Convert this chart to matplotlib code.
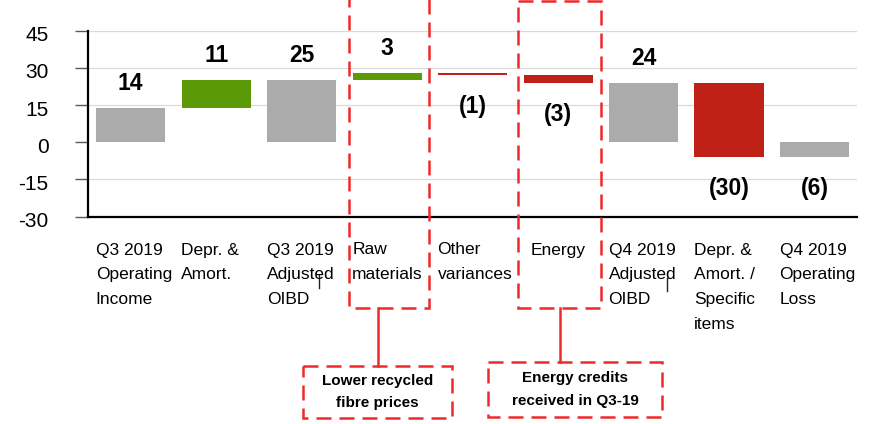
"""
Q3 -> Q4 2019 operating income bridge (waterfall), with dashed call-outs
on the raw materials and energy steps.
"""

import matplotlib
matplotlib.use("Agg")
import matplotlib.pyplot as plt
from matplotlib import font_manager
from matplotlib.patches import Rectangle
from matplotlib.lines import Line2D
import matplotlib.transforms as mtransforms

# ---- data -----------------------------------------------------------------
categories = [
    "Q3 2019\nOperating\nIncome",
    "Depr. &\nAmort.",
    "Q3 2019\nAdjusted\nOIBD",
    "Raw\nmaterials",
    "Other\nvariances",
    "Energy",
    "Q4 2019\nAdjusted\nOIBD",
    "Depr. &\nAmort. /\nSpecific\nitems",
    "Q4 2019\nOperating\nLoss",
]
values = [14, 11, 25, 3, -1, -3, 24, -30, -6]
kinds = ["total", "up", "total", "up", "down", "down", "total", "down", "total"]

yticks = [-30, -15, 0, 15, 30, 45]
grid_levels = [45, 30, 15, -15]

callout_texts = ["Lower recycled\nfibre prices", "Energy credits\nreceived in Q3-19"]

# ---- style ----------------------------------------------------------------
GREY = "#ABABAB"
GREEN = "#5B9A06"
RED = "#BF2117"
DASH_RED = "#EE2A2A"
colors = {"total": GREY, "up": GREEN, "down": RED}

installed = {f.name for f in font_manager.fontManager.ttflist}
NARROW = "Liberation Sans Narrow" if "Liberation Sans Narrow" in installed else "Liberation Sans"
plt.rcParams["font.family"] = ["Liberation Sans", "DejaVu Sans"]
plt.rcParams["axes.unicode_minus"] = False

W, H = 871, 424
fig = plt.figure(figsize=(W / 100, H / 100), dpi=100)
ax = fig.add_axes([88 / W, 1 - 216.7 / H, (857.3 - 88) / W, (216.7 - 30.7) / H])

# waterfall bottoms / heights
bottoms, heights = [], []
running = 0
for v, k in zip(values, kinds):
    if k == "total":
        bottoms.append(0)
        heights.append(v)
        running = v
    else:
        bottoms.append(running)
        heights.append(v)
        running += v

x = list(range(len(categories)))
ax.bar(x, heights, bottom=bottoms, width=0.81,
       color=[colors[k] for k in kinds], zorder=3)

for lvl in grid_levels:
    ax.axhline(lvl, color="#D9D9D9", lw=0.9, zorder=1)

ax.set_xlim(-0.5, len(categories) - 0.5)
ax.set_ylim(-30, 45)
ax.set_yticks(yticks)
ax.set_xticks([])
ax.tick_params(axis="y", length=9.4, width=1, color="#595959", pad=19,
               labelsize=15)
down = mtransforms.ScaledTranslation(0, -3 / 100, fig.dpi_scale_trans)
for lab in ax.get_yticklabels():
    lab.set_transform(lab.get_transform() + down)
for side in ("top", "right"):
    ax.spines[side].set_visible(False)
for side in ("left", "bottom"):
    ax.spines[side].set_linewidth(1.6)
    ax.spines[side].set_color("black")

# value labels
for i, (v, k, b) in enumerate(zip(values, kinds, bottoms)):
    txt = f"({abs(v)})" if v < 0 else f"{v}"
    if v >= 0:
        ax.annotate(txt, (i, b + v), xytext=(0, 13), textcoords="offset points",
                    ha="center", va="baseline", fontsize=16.5, fontweight="bold",
                    family=NARROW)
    else:
        low = min(b, b + v)
        ax.annotate(txt, (i, low), xytext=(0, -27.4), textcoords="offset points",
                    ha="center", va="baseline", fontsize=16.5, fontweight="bold",
                    family=NARROW)

# x in data units, y in pixels from the top of the figure
px = mtransforms.Affine2D().scale(1 / W, -1 / H).translate(0, 1) + fig.transFigure
bl = mtransforms.blended_transform_factory(ax.transData, px)

# category labels, left aligned under each slot
for i, lab in enumerate(categories):
    if lab == "Energy":
        ax.text(i, 242.5, lab, transform=bl, ha="center", va="top", fontsize=12.5,
                linespacing=1.82)
    else:
        ax.text(i - 0.41, 242.5, lab, transform=bl, ha="left", va="top",
                fontsize=12.5, linespacing=1.82)

# stray cursor marks
for xc, y0 in [(2.205, 275), (6.276, 278)]:
    ax.add_line(Line2D([xc, xc], [y0, y0 + 13], transform=bl, color="#222222",
                       lw=1, clip_on=False))

# dashed highlight boxes + call-outs
dash = (0, (6, 3.2))
highlights = [
    # x0, x1, top px, bottom px, connector x, callout x0, x1, callout top, bottom
    (2.556, 3.49, -6, 308, 2.89, 2.017, 3.762, 366, 418),
    (4.535, 5.503, 0.8, 308, 5.027, 4.184, 6.21, 361.5, 417),
]
for (x0, x1, t, b, cx, bx0, bx1, bt, bb), label in zip(highlights, callout_texts):
    ax.add_patch(Rectangle((x0, t), x1 - x0, b - t, transform=bl, fill=False,
                           ec=DASH_RED, lw=1.8, ls=dash, clip_on=False, zorder=6))
    ax.add_line(Line2D([cx, cx], [b, bt], transform=bl, color=DASH_RED,
                       lw=1.8, clip_on=False, zorder=6))
    ax.add_patch(Rectangle((bx0, bt), bx1 - bx0, bb - bt, transform=bl,
                           fill=False, ec=DASH_RED, lw=1.8, ls=dash,
                           clip_on=False, zorder=6))
    ax.text((bx0 + bx1) / 2, (bt + bb) / 2, label, transform=bl,
            ha="center", va="center", fontsize=11, fontweight="bold",
            linespacing=1.8)

fig.savefig("out.png", dpi=100)
